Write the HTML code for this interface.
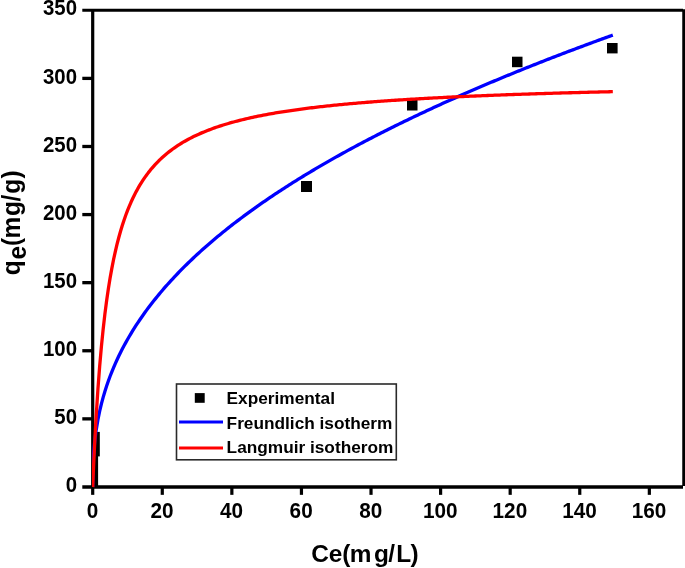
<!DOCTYPE html>
<html><head><meta charset="utf-8"><title>Isotherm</title>
<style>
html,body{margin:0;padding:0;background:#fff;}
body{width:685px;height:568px;overflow:hidden;}
svg{display:block;}
text{font-family:"Liberation Sans",Arial,sans-serif;font-weight:bold;fill:#000;}
</style></head><body>
<svg width="685" height="568" viewBox="0 0 685 568">
<rect width="685" height="568" fill="#fff"/>
<g fill="#000">
<rect x="301" y="181" width="11" height="11"/>
<rect x="407" y="99.5" width="10.5" height="11"/>
<rect x="512" y="56.7" width="10.5" height="10.5"/>
<rect x="607" y="43" width="10.6" height="10.4"/>
<rect x="92" y="431.9" width="7.8" height="24.5"/>
<rect x="92" y="456" width="6.1" height="31"/>
</g>
<g stroke="#000" stroke-width="3.3" fill="none" stroke-linecap="butt">
<line x1="92.7" x2="92.7" y1="10.3" y2="487" stroke-width="3.2"/>
<line x1="683.75" x2="683.75" y1="9.3" y2="486" stroke-width="3"/>
<line x1="82.3" x2="683" y1="10.3" y2="10.3" stroke-width="3.1"/>
<line x1="82.3" x2="683" y1="486.95" y2="486.95" stroke-width="3.5"/>
<line x1="82.3" x2="92.7" y1="418.86" y2="418.86"/><line x1="82.3" x2="92.7" y1="350.76" y2="350.76"/><line x1="82.3" x2="92.7" y1="282.67" y2="282.67"/><line x1="82.3" x2="92.7" y1="214.58" y2="214.58"/><line x1="82.3" x2="92.7" y1="146.49" y2="146.49"/><line x1="82.3" x2="92.7" y1="78.39" y2="78.39"/>
<line y1="487" y2="494.85" x1="92.70" x2="92.70" stroke-width="3.2"/><line y1="487" y2="494.85" x1="162.28" x2="162.28" stroke-width="3.2"/><line y1="487" y2="494.85" x1="231.86" x2="231.86" stroke-width="3.2"/><line y1="487" y2="494.85" x1="301.44" x2="301.44" stroke-width="3.2"/><line y1="487" y2="494.85" x1="371.02" x2="371.02" stroke-width="3.2"/><line y1="487" y2="494.85" x1="440.60" x2="440.60" stroke-width="3.2"/><line y1="487" y2="494.85" x1="510.18" x2="510.18" stroke-width="3.2"/><line y1="487" y2="494.85" x1="579.76" x2="579.76" stroke-width="3.2"/><line y1="487" y2="494.85" x1="649.34" x2="649.34" stroke-width="3.2"/>
</g>
<clipPath id="cp"><rect x="91.9" y="0" width="600" height="489"/></clipPath>
<g clip-path="url(#cp)">
<path d="M92.70 486.95 L92.70 483.69 L92.70 483.54 L92.70 483.37 L92.70 483.19 L92.71 483.01 L92.71 482.82 L92.71 482.62 L92.71 482.40 L92.71 482.18 L92.71 481.95 L92.71 481.71 L92.71 481.45 L92.71 481.18 L92.72 480.90 L92.72 480.60 L92.72 480.29 L92.72 479.97 L92.72 479.63 L92.73 479.27 L92.73 478.90 L92.73 478.50 L92.74 478.09 L92.74 477.66 L92.75 477.20 L92.76 476.73 L92.76 476.23 L92.77 475.71 L92.78 475.16 L92.79 474.58 L92.80 473.98 L92.81 473.35 L92.82 472.68 L92.84 471.98 L92.86 471.25 L92.87 470.49 L92.90 469.68 L92.92 468.84 L92.95 467.96 L92.98 467.03 L93.01 466.06 L93.05 465.04 L93.09 463.97 L93.14 462.85 L93.19 461.67 L93.25 460.44 L93.32 459.14 L93.39 457.78 L93.48 456.36 L93.57 454.87 L93.68 453.30 L93.80 451.66 L93.93 449.93 L94.09 448.13 L94.25 446.23 L94.44 444.24 L94.66 442.16 L94.90 439.97 L95.16 437.68 L95.46 435.27 L95.80 432.75 L96.18 430.11 L97.92 419.72 L99.66 411.21 L101.40 403.88 L103.14 397.37 L104.88 391.47 L106.62 386.04 L108.36 381.00 L110.09 376.27 L111.83 371.82 L113.57 367.60 L115.31 363.57 L117.05 359.73 L118.79 356.04 L120.53 352.50 L122.27 349.08 L124.01 345.78 L125.75 342.59 L127.49 339.49 L129.23 336.48 L130.97 333.55 L132.71 330.70 L134.45 327.93 L136.19 325.21 L137.93 322.57 L139.67 319.98 L141.41 317.45 L143.15 314.97 L144.88 312.53 L146.62 310.15 L148.36 307.81 L150.10 305.51 L151.84 303.26 L153.58 301.04 L155.32 298.86 L157.06 296.71 L158.80 294.60 L160.54 292.52 L162.28 290.47 L164.02 288.45 L165.76 286.46 L167.50 284.50 L169.24 282.57 L170.98 280.66 L172.72 278.77 L174.46 276.91 L176.20 275.07 L177.94 273.25 L179.68 271.46 L181.41 269.68 L183.15 267.93 L184.89 266.20 L186.63 264.48 L188.37 262.79 L190.11 261.11 L191.85 259.45 L193.59 257.80 L195.33 256.17 L197.07 254.56 L198.81 252.97 L200.55 251.39 L202.29 249.82 L204.03 248.27 L205.77 246.73 L207.51 245.21 L209.25 243.70 L210.99 242.20 L212.73 240.72 L214.47 239.25 L216.20 237.79 L217.94 236.34 L219.68 234.91 L221.42 233.48 L223.16 232.07 L224.90 230.67 L226.64 229.28 L228.38 227.90 L230.12 226.53 L231.86 225.17 L233.60 223.82 L235.34 222.48 L237.08 221.15 L238.82 219.83 L240.56 218.52 L242.30 217.21 L244.04 215.92 L245.78 214.63 L247.52 213.36 L249.25 212.09 L250.99 210.83 L252.73 209.58 L254.47 208.33 L256.21 207.10 L257.95 205.87 L259.69 204.65 L261.43 203.43 L263.17 202.23 L264.91 201.03 L266.65 199.83 L268.39 198.65 L270.13 197.47 L271.87 196.30 L273.61 195.13 L275.35 193.98 L277.09 192.82 L278.83 191.68 L280.57 190.54 L282.31 189.41 L284.05 188.28 L285.78 187.16 L287.52 186.04 L289.26 184.93 L291.00 183.83 L292.74 182.73 L294.48 181.64 L296.22 180.55 L297.96 179.47 L299.70 178.39 L301.44 177.32 L303.18 176.26 L304.92 175.20 L306.66 174.14 L308.40 173.09 L310.14 172.05 L311.88 171.01 L313.62 169.97 L315.36 168.94 L317.10 167.91 L318.84 166.89 L320.57 165.87 L322.31 164.86 L324.05 163.85 L325.79 162.85 L327.53 161.85 L329.27 160.86 L331.01 159.87 L332.75 158.88 L334.49 157.90 L336.23 156.92 L337.97 155.95 L339.71 154.98 L341.45 154.01 L343.19 153.05 L344.93 152.09 L346.67 151.14 L348.41 150.18 L350.15 149.24 L351.89 148.30 L353.62 147.36 L355.36 146.42 L357.10 145.49 L358.84 144.56 L360.58 143.64 L362.32 142.72 L364.06 141.80 L365.80 140.88 L367.54 139.97 L369.28 139.06 L371.02 138.16 L372.76 137.26 L374.50 136.36 L376.24 135.47 L377.98 134.58 L379.72 133.69 L381.46 132.80 L383.20 131.92 L384.94 131.04 L386.68 130.17 L388.42 129.30 L390.15 128.43 L391.89 127.56 L393.63 126.70 L395.37 125.84 L397.11 124.98 L398.85 124.12 L400.59 123.27 L402.33 122.42 L404.07 121.58 L405.81 120.73 L407.55 119.89 L409.29 119.05 L411.03 118.22 L412.77 117.38 L414.51 116.55 L416.25 115.73 L417.99 114.90 L419.73 114.08 L421.47 113.26 L423.20 112.44 L424.94 111.63 L426.68 110.81 L428.42 110.00 L430.16 109.20 L431.90 108.39 L433.64 107.59 L435.38 106.79 L437.12 105.99 L438.86 105.20 L440.60 104.40 L442.34 103.61 L444.08 102.82 L445.82 102.04 L447.56 101.25 L449.30 100.47 L451.04 99.69 L452.78 98.92 L454.52 98.14 L456.26 97.37 L458.00 96.60 L459.73 95.83 L461.47 95.06 L463.21 94.30 L464.95 93.54 L466.69 92.78 L468.43 92.02 L470.17 91.26 L471.91 90.51 L473.65 89.76 L475.39 89.01 L477.13 88.26 L478.87 87.51 L480.61 86.77 L482.35 86.03 L484.09 85.29 L485.83 84.55 L487.57 83.81 L489.31 83.08 L491.05 82.35 L492.79 81.62 L494.52 80.89 L496.26 80.16 L498.00 79.44 L499.74 78.71 L501.48 77.99 L503.22 77.27 L504.96 76.55 L506.70 75.84 L508.44 75.12 L510.18 74.41 L511.92 73.70 L513.66 72.99 L515.40 72.28 L517.14 71.58 L518.88 70.87 L520.62 70.17 L522.36 69.47 L524.10 68.77 L525.84 68.08 L527.58 67.38 L529.31 66.69 L531.05 65.99 L532.79 65.30 L534.53 64.61 L536.27 63.93 L538.01 63.24 L539.75 62.56 L541.49 61.87 L543.23 61.19 L544.97 60.51 L546.71 59.83 L548.45 59.16 L550.19 58.48 L551.93 57.81 L553.67 57.14 L555.41 56.46 L557.15 55.80 L558.89 55.13 L560.63 54.46 L562.37 53.80 L564.10 53.13 L565.84 52.47 L567.58 51.81 L569.32 51.15 L571.06 50.49 L572.80 49.84 L574.54 49.18 L576.28 48.53 L578.02 47.88 L579.76 47.23 L581.50 46.58 L583.24 45.93 L584.98 45.28 L586.72 44.64 L588.46 43.99 L590.20 43.35 L591.94 42.71 L593.68 42.07 L595.42 41.43 L597.16 40.79 L598.89 40.15 L600.63 39.52 L602.37 38.89 L604.11 38.25 L605.85 37.62 L607.59 36.99 L609.33 36.36 L611.07 35.74 L612.81 35.11 L612.81 35.11" fill="none" stroke="#0000ff" stroke-width="3.3" stroke-linejoin="round"/>
<path d="M92.70 486.95 L92.70 486.86 L92.70 486.85 L92.70 486.84 L92.70 486.83 L92.71 486.81 L92.71 486.80 L92.71 486.78 L92.71 486.76 L92.71 486.73 L92.71 486.71 L92.71 486.68 L92.71 486.65 L92.71 486.61 L92.72 486.57 L92.72 486.52 L92.72 486.47 L92.72 486.41 L92.72 486.34 L92.73 486.27 L92.73 486.19 L92.73 486.10 L92.74 485.99 L92.74 485.87 L92.75 485.74 L92.76 485.60 L92.76 485.43 L92.77 485.25 L92.78 485.04 L92.79 484.81 L92.80 484.55 L92.81 484.26 L92.82 483.93 L92.84 483.57 L92.86 483.16 L92.87 482.70 L92.90 482.19 L92.92 481.62 L92.95 480.97 L92.98 480.26 L93.01 479.46 L93.05 478.56 L93.09 477.56 L93.14 476.44 L93.19 475.20 L93.25 473.81 L93.32 472.27 L93.39 470.55 L93.48 468.64 L93.57 466.51 L93.68 464.16 L93.80 461.55 L93.93 458.67 L94.09 455.48 L94.25 451.97 L94.44 448.11 L94.66 443.87 L94.90 439.23 L95.16 434.16 L95.46 428.64 L95.80 422.65 L96.18 416.16 L97.92 389.25 L99.66 366.31 L101.40 346.53 L103.14 329.30 L104.88 314.16 L106.62 300.75 L108.36 288.78 L110.09 278.04 L111.83 268.34 L113.57 259.55 L115.31 251.54 L117.05 244.21 L118.79 237.47 L120.53 231.27 L122.27 225.53 L124.01 220.21 L125.75 215.26 L127.49 210.65 L129.23 206.34 L130.97 202.30 L132.71 198.51 L134.45 194.95 L136.19 191.59 L137.93 188.42 L139.67 185.43 L141.41 182.60 L143.15 179.91 L144.88 177.36 L146.62 174.93 L148.36 172.62 L150.10 170.42 L151.84 168.32 L153.58 166.32 L155.32 164.40 L157.06 162.57 L158.80 160.81 L160.54 159.13 L162.28 157.51 L164.02 155.96 L165.76 154.47 L167.50 153.03 L169.24 151.65 L170.98 150.32 L172.72 149.04 L174.46 147.80 L176.20 146.60 L177.94 145.45 L179.68 144.33 L181.41 143.26 L183.15 142.21 L184.89 141.20 L186.63 140.22 L188.37 139.28 L190.11 138.36 L191.85 137.47 L193.59 136.60 L195.33 135.76 L197.07 134.95 L198.81 134.15 L200.55 133.38 L202.29 132.64 L204.03 131.91 L205.77 131.20 L207.51 130.51 L209.25 129.84 L210.99 129.18 L212.73 128.54 L214.47 127.92 L216.20 127.31 L217.94 126.72 L219.68 126.15 L221.42 125.58 L223.16 125.03 L224.90 124.49 L226.64 123.97 L228.38 123.46 L230.12 122.96 L231.86 122.46 L233.60 121.99 L235.34 121.52 L237.08 121.06 L238.82 120.61 L240.56 120.17 L242.30 119.74 L244.04 119.32 L245.78 118.91 L247.52 118.50 L249.25 118.11 L250.99 117.72 L252.73 117.34 L254.47 116.96 L256.21 116.60 L257.95 116.24 L259.69 115.89 L261.43 115.54 L263.17 115.20 L264.91 114.87 L266.65 114.54 L268.39 114.22 L270.13 113.91 L271.87 113.60 L273.61 113.29 L275.35 112.99 L277.09 112.70 L278.83 112.41 L280.57 112.13 L282.31 111.85 L284.05 111.57 L285.78 111.30 L287.52 111.04 L289.26 110.78 L291.00 110.52 L292.74 110.27 L294.48 110.02 L296.22 109.78 L297.96 109.54 L299.70 109.30 L301.44 109.06 L303.18 108.83 L304.92 108.61 L306.66 108.39 L308.40 108.17 L310.14 107.95 L311.88 107.74 L313.62 107.53 L315.36 107.32 L317.10 107.12 L318.84 106.92 L320.57 106.72 L322.31 106.52 L324.05 106.33 L325.79 106.14 L327.53 105.95 L329.27 105.77 L331.01 105.59 L332.75 105.41 L334.49 105.23 L336.23 105.05 L337.97 104.88 L339.71 104.71 L341.45 104.54 L343.19 104.38 L344.93 104.21 L346.67 104.05 L348.41 103.89 L350.15 103.73 L351.89 103.58 L353.62 103.42 L355.36 103.27 L357.10 103.12 L358.84 102.98 L360.58 102.83 L362.32 102.68 L364.06 102.54 L365.80 102.40 L367.54 102.26 L369.28 102.12 L371.02 101.99 L372.76 101.85 L374.50 101.72 L376.24 101.59 L377.98 101.46 L379.72 101.33 L381.46 101.20 L383.20 101.08 L384.94 100.96 L386.68 100.83 L388.42 100.71 L390.15 100.59 L391.89 100.47 L393.63 100.36 L395.37 100.24 L397.11 100.13 L398.85 100.01 L400.59 99.90 L402.33 99.79 L404.07 99.68 L405.81 99.57 L407.55 99.46 L409.29 99.36 L411.03 99.25 L412.77 99.15 L414.51 99.04 L416.25 98.94 L417.99 98.84 L419.73 98.74 L421.47 98.64 L423.20 98.54 L424.94 98.45 L426.68 98.35 L428.42 98.25 L430.16 98.16 L431.90 98.07 L433.64 97.97 L435.38 97.88 L437.12 97.79 L438.86 97.70 L440.60 97.61 L442.34 97.53 L444.08 97.44 L445.82 97.35 L447.56 97.27 L449.30 97.18 L451.04 97.10 L452.78 97.01 L454.52 96.93 L456.26 96.85 L458.00 96.77 L459.73 96.69 L461.47 96.61 L463.21 96.53 L464.95 96.45 L466.69 96.38 L468.43 96.30 L470.17 96.22 L471.91 96.15 L473.65 96.07 L475.39 96.00 L477.13 95.92 L478.87 95.85 L480.61 95.78 L482.35 95.71 L484.09 95.64 L485.83 95.57 L487.57 95.50 L489.31 95.43 L491.05 95.36 L492.79 95.29 L494.52 95.22 L496.26 95.16 L498.00 95.09 L499.74 95.03 L501.48 94.96 L503.22 94.90 L504.96 94.83 L506.70 94.77 L508.44 94.70 L510.18 94.64 L511.92 94.58 L513.66 94.52 L515.40 94.46 L517.14 94.40 L518.88 94.34 L520.62 94.28 L522.36 94.22 L524.10 94.16 L525.84 94.10 L527.58 94.04 L529.31 93.98 L531.05 93.93 L532.79 93.87 L534.53 93.81 L536.27 93.76 L538.01 93.70 L539.75 93.65 L541.49 93.59 L543.23 93.54 L544.97 93.49 L546.71 93.43 L548.45 93.38 L550.19 93.33 L551.93 93.28 L553.67 93.22 L555.41 93.17 L557.15 93.12 L558.89 93.07 L560.63 93.02 L562.37 92.97 L564.10 92.92 L565.84 92.87 L567.58 92.82 L569.32 92.77 L571.06 92.73 L572.80 92.68 L574.54 92.63 L576.28 92.58 L578.02 92.54 L579.76 92.49 L581.50 92.44 L583.24 92.40 L584.98 92.35 L586.72 92.31 L588.46 92.26 L590.20 92.22 L591.94 92.17 L593.68 92.13 L595.42 92.09 L597.16 92.04 L598.89 92.00 L600.63 91.96 L602.37 91.91 L604.11 91.87 L605.85 91.83 L607.59 91.79 L609.33 91.75 L611.07 91.71 L612.81 91.66 L612.81 91.66" fill="none" stroke="#ff0000" stroke-width="3.3" stroke-linejoin="round"/>
</g>
<g font-size="21.5">
<text transform="translate(77,492.15) scale(0.95,1.02)" text-anchor="end">0</text><text transform="translate(77,424.06) scale(0.95,1.02)" text-anchor="end">50</text><text transform="translate(77,355.96) scale(0.95,1.02)" text-anchor="end">100</text><text transform="translate(77,287.87) scale(0.95,1.02)" text-anchor="end">150</text><text transform="translate(77,219.78) scale(0.95,1.02)" text-anchor="end">200</text><text transform="translate(77,151.69) scale(0.95,1.02)" text-anchor="end">250</text><text transform="translate(77,83.59) scale(0.95,1.02)" text-anchor="end">300</text><text transform="translate(77,14.50) scale(0.95,1.02)" text-anchor="end">350</text>
<text transform="translate(92.40,517.7) scale(0.965,1.035)" text-anchor="middle">0</text><text transform="translate(161.98,517.7) scale(0.965,1.035)" text-anchor="middle">20</text><text transform="translate(231.56,517.7) scale(0.965,1.035)" text-anchor="middle">40</text><text transform="translate(301.14,517.7) scale(0.965,1.035)" text-anchor="middle">60</text><text transform="translate(370.72,517.7) scale(0.965,1.035)" text-anchor="middle">80</text><text transform="translate(440.30,517.7) scale(0.965,1.035)" text-anchor="middle">100</text><text transform="translate(509.88,517.7) scale(0.965,1.035)" text-anchor="middle">120</text><text transform="translate(579.46,517.7) scale(0.965,1.035)" text-anchor="middle">140</text><text transform="translate(649.04,517.7) scale(0.965,1.035)" text-anchor="middle">160</text>
</g>
<text x="311.2" y="562.1" font-size="24.4" dx="0 0 -0.09 -0.63 2.61 -0.8 1.22 -0.5">Ce(mg/L)</text>
<g transform="translate(19.7,277.5) rotate(-90) scale(1,1.05)"><text x="2.3" y="0" font-size="24.4" dx="0 0.7 0.03 -0.63 0.81 -0.5 1.12 0.3" dy="0 6.3 -6.3 0 0 0 0 0">qe(mg/g)</text></g>
<rect x="176.5" y="384" width="219.8" height="75.8" fill="#fff" stroke="#2a2a2a" stroke-width="1.6"/>
<rect x="194.8" y="393.1" width="9.9" height="9.7" fill="#000"/>
<line x1="179" x2="223" y1="422" y2="422" stroke="#0000ff" stroke-width="3"/>
<line x1="179" x2="223" y1="447.9" y2="447.9" stroke="#ff0000" stroke-width="3"/>
<g font-size="17.25">
<text x="226.6" y="403.5">Experimental</text>
<text x="226.6" y="428.7">Freundlich isotherm</text>
<text x="226.6" y="452.9">Langmuir isotherom</text>
</g>
</svg>
</body></html>
